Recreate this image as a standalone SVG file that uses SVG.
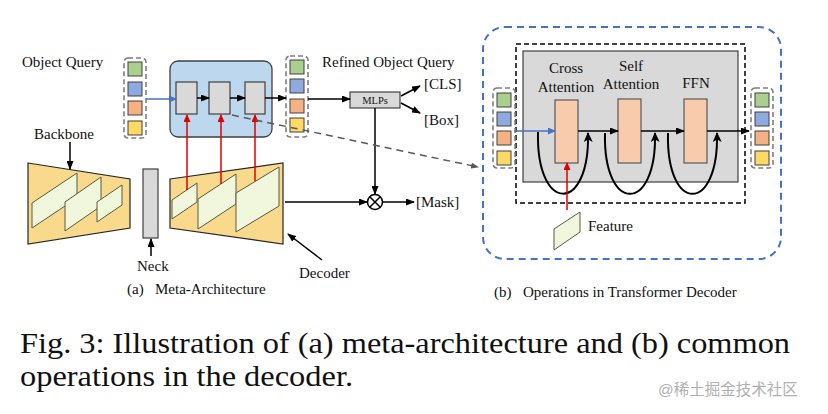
<svg xmlns="http://www.w3.org/2000/svg" width="828" height="414" viewBox="0 0 828 414" font-family="'Liberation Serif', 'Times New Roman', serif">
<defs>
<style>
.t15{font-size:15px;font-family:'Liberation Serif','Times New Roman',serif;fill:#111}
.sq{stroke:#404040;stroke-width:1}
.g{fill:#a9d08e}.b{fill:#8faadc}.o{fill:#f4b183}.y{fill:#ffd966}
.qgrp{fill:none;stroke:#7f7f7f;stroke-width:1.6;stroke-dasharray:5,3}
.gbox{fill:#d9d9d9;stroke:#404040;stroke-width:1.2}
.para{fill:#f1f7dd;stroke:#5a5a3c;stroke-width:1}
.trap{fill:#f9da8d;stroke:#262626;stroke-width:1.2}
.ar{stroke:#000;stroke-width:1.5;fill:none;marker-end:url(#ak)}
.red{stroke:#e00000;stroke-width:1.5;fill:none;marker-end:url(#ar)}
.blu{stroke:#4472c4;stroke-width:1.5;fill:none;marker-end:url(#ab)}
.ob{fill:#f8cbad;stroke:#595959;stroke-width:1.2}
.loop{stroke:#000;stroke-width:2;fill:none;marker-end:url(#ak2)}
</style>
<marker id="ak" markerUnits="userSpaceOnUse" markerWidth="9" markerHeight="7" refX="8" refY="3.5" orient="auto"><path d="M0,0 L9,3.5 L0,7 z" fill="#000"/></marker>
<marker id="ak2" markerUnits="userSpaceOnUse" markerWidth="10" markerHeight="9" refX="9" refY="4.5" orient="auto"><path d="M0,0 L10,4.5 L0,9 L2.5,4.5 z" fill="#000"/></marker>
<marker id="ar" markerUnits="userSpaceOnUse" markerWidth="8" markerHeight="7" refX="7" refY="3.5" orient="auto"><path d="M0,0 L8,3.5 L0,7 z" fill="#e00000"/></marker>
<marker id="ab" markerUnits="userSpaceOnUse" markerWidth="8" markerHeight="7" refX="7" refY="3.5" orient="auto"><path d="M0,0 L8,3.5 L0,7 z" fill="#4472c4"/></marker>
<marker id="ag" markerUnits="userSpaceOnUse" markerWidth="8" markerHeight="6" refX="7" refY="3" orient="auto"><path d="M0,0 L8,3 L0,6 z" fill="#595959"/></marker>
</defs>
<rect width="828" height="414" fill="#fff"/>

<!-- (a) meta-architecture -->
<g id="object-query">
<text class="t15" x="22" y="67">Object Query</text>
<rect class="qgrp" x="124" y="58" width="22" height="80" rx="4"/>
<rect class="sq g" x="128" y="62" width="14" height="14"/>
<rect class="sq b" x="128" y="82" width="14" height="14"/>
<rect class="sq o" x="128" y="101" width="14" height="14"/>
<rect class="sq y" x="128" y="121" width="14" height="14"/>
</g>
<g id="transformer-decoder">
<rect x="170" y="61" width="102" height="76" rx="8" fill="#bdd7ee" stroke="#404040" stroke-width="1.3"/>
<rect class="gbox" x="176" y="82" width="21" height="32"/>
<rect class="gbox" x="209" y="82" width="21" height="32"/>
<rect class="gbox" x="245" y="82" width="20" height="32"/>
</g>
<g id="refined-query">
<text class="t15" x="322" y="67">Refined Object Query</text>
<rect class="qgrp" x="286" y="56" width="22" height="81" rx="4"/>
<rect class="sq g" x="290" y="60" width="14" height="14"/>
<rect class="sq b" x="290" y="79" width="14" height="14"/>
<rect class="sq o" x="290" y="99" width="14" height="14"/>
<rect class="sq y" x="290" y="118" width="14" height="14"/>
</g>
<g id="mlps">
<rect class="gbox" x="350" y="92" width="50" height="16"/>
<text x="375" y="104" font-size="10.5" text-anchor="middle" font-family="'Liberation Serif', serif" fill="#111">MLPs</text>
</g>
<g id="outputs">
<text class="t15" x="424" y="89">[CLS]</text>
<text class="t15" x="424" y="125">[Box]</text>
<text class="t15" x="416" y="207">[Mask]</text>
</g>
<g id="multiply">
<circle cx="375" cy="202" r="7.5" fill="#fff" stroke="#000" stroke-width="1.5"/>
<path d="M369.7,196.7 L380.3,207.3 M380.3,196.7 L369.7,207.3" stroke="#000" stroke-width="1.5"/>
</g>
<g id="backbone">
<text class="t15" x="34" y="139">Backbone</text>
<polygon class="trap" points="28,163 130,179 130,228 28,244"/>
<polygon class="para" points="32,203 77,173 77,198 32,228"/>
<polygon class="para" points="65,202 101,177 101,206 65,231"/>
<polygon class="para" points="97,202 122,185 122,205 97,222"/>
</g>
<g id="neck">
<rect class="gbox" x="143" y="169" width="15" height="69"/>
<text class="t15" x="137" y="271">Neck</text>
</g>
<g id="pixel-decoder">
<polygon class="trap" points="170,179 283,163 283,244 170,228"/>
<polygon class="para" points="172,200 197,183 197,202 172,219"/>
<polygon class="para" points="198,199 236,174 236,204 198,229"/>
<polygon class="para" points="236,193 279,167 279,206 236,232"/>
<text class="t15" x="299" y="278">Decoder</text>
</g>
<text class="t15" x="127" y="294">(a)</text>
<text class="t15" x="155" y="294">Meta-Architecture</text>

<!-- (b) operations -->
<g id="panel-b">
<rect x="483" y="27" width="298" height="232" rx="22" fill="none" stroke="#4472c4" stroke-width="2" stroke-dasharray="7,5"/>
<rect x="516" y="44" width="229" height="159" fill="none" stroke="#000" stroke-width="1.5" stroke-dasharray="5,3"/>
<rect x="523" y="51" width="215" height="131" fill="#d9d9d9" stroke="#404040" stroke-width="1.2"/>
</g>
<g id="cross-attention">
<rect class="ob" x="555" y="100" width="23" height="63"/>
<text class="t15" x="566" y="73" text-anchor="middle">Cross</text>
<text class="t15" x="566" y="92" text-anchor="middle">Attention</text>
</g>
<g id="self-attention">
<rect class="ob" x="618" y="99" width="23" height="64"/>
<text class="t15" x="631" y="71" text-anchor="middle">Self</text>
<text class="t15" x="631" y="89" text-anchor="middle">Attention</text>
</g>
<g id="ffn">
<rect class="ob" x="684" y="99" width="23" height="64"/>
<text class="t15" x="696" y="88" text-anchor="middle">FFN</text>
</g>
<g id="query-in">
<rect class="qgrp" x="493" y="88" width="22" height="80" rx="4"/>
<rect class="sq g" x="497" y="93" width="14" height="14"/>
<rect class="sq b" x="497" y="112" width="14" height="14"/>
<rect class="sq o" x="497" y="131" width="14" height="14"/>
<rect class="sq y" x="497" y="151" width="14" height="14"/>
</g>
<g id="query-out">
<rect class="qgrp" x="751" y="88" width="22" height="80" rx="4"/>
<rect class="sq g" x="755" y="93" width="14" height="14"/>
<rect class="sq b" x="755" y="112" width="14" height="14"/>
<rect class="sq o" x="755" y="131" width="14" height="14"/>
<rect class="sq y" x="755" y="151" width="14" height="14"/>
</g>
<g id="feature">
<polygon class="para" points="554,229 580,212 580,232 554,250"/>
<text class="t15" x="588" y="231">Feature</text>
</g>
<text class="t15" x="494" y="297">(b)</text>
<text class="t15" x="523" y="297">Operations in Transformer Decoder</text>

<g id="connectors">
<path class="blu" d="M146,99 L176,99"/>
<path class="ar" d="M197,98 L209,98"/>
<path class="ar" d="M230,98 L245,98"/>
<path class="ar" d="M265,98 L286,98"/>
<path class="red" d="M187,190 L187,115"/>
<path class="red" d="M221,184 L221,115"/>
<path class="red" d="M255,181 L255,115"/>
<path class="ar" d="M308,99 L350,99"/>
<path class="ar" d="M401,96 L420,86"/>
<path class="ar" d="M401,103 L420,113"/>
<path class="ar" d="M375,108 L375,194"/>
<path class="ar" d="M285,202 L367,202"/>
<path class="ar" d="M383,202 L414,202"/>
<path d="M232,115 L478,167" stroke="#595959" stroke-width="1.5" stroke-dasharray="7,5" fill="none" marker-end="url(#ag)"/>
<path class="ar" d="M70,142 L70,169"/>
<path class="ar" d="M151,256 L151,239"/>
<path class="ar" d="M322,260 L288,234"/>
<path class="blu" d="M515,131 L555,131"/>
<path class="ar" d="M578,131 L618,131"/>
<path class="ar" d="M641,131 L684,131"/>
<path class="ar" d="M707,131 L749,131"/>
<path class="loop" d="M538,132 C536,214 590,214 588,133"/>
<path class="loop" d="M605,133 C603,214 657,214 655,133"/>
<path class="loop" d="M668,133 C666,214 719,214 717,133"/>
<path class="red" d="M567,210 L567,163"/>
</g>

<g id="caption" font-family="'Liberation Serif', serif" fill="#111">
<text x="20" y="353" font-size="29" textLength="770" lengthAdjust="spacingAndGlyphs">Fig. 3: Illustration of (a) meta-architecture and (b) common</text>
<text x="20" y="386" font-size="29" textLength="333" lengthAdjust="spacingAndGlyphs">operations in the decoder.</text>
<text x="658" y="395" font-size="15.5" font-family="'Liberation Sans', 'Noto Sans CJK SC', sans-serif" fill="#b0b0b0">@稀土掘金技术社区</text>
</g>
</svg>
